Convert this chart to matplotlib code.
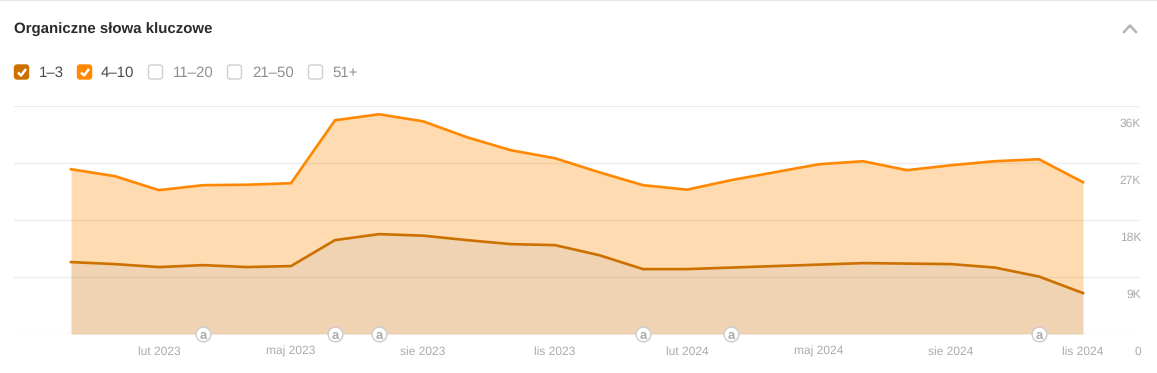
import matplotlib
matplotlib.use("Agg")
import matplotlib.pyplot as plt
from matplotlib.patches import FancyBboxPatch
from matplotlib.transforms import ScaledTranslation

plt.rcParams['font.family'] = ['Liberation Sans', 'DejaVu Sans']
plt.rcParams['text.hinting'] = 'no_hinting'
plt.rcParams['text.hinting_factor'] = 1

W, H = 1157, 373

title = "Organiczne słowa kluczowe"
months = list(range(24))
kw_1_3 = [11370, 11050, 10580, 10890, 10580, 10740, 14840, 15790, 15550, 14840, 14210, 14050,
          12470, 10260, 10260, 10500, 10740, 10970, 11210, 11130, 11050, 10500, 9080, 6470]
kw_4_10 = [14680, 13900, 12160, 12640, 13020, 13100, 18950, 18950, 18080, 16270, 14840, 13740,
           13110, 13270, 12560, 13820, 14840, 15870, 16110, 14770, 15630, 16820, 18550, 17530]
x_tick_pos = [2, 5, 8, 11, 14, 17, 20, 23]
x_tick_labels = ["lut 2023", "maj 2023", "sie 2023", "lis 2023",
                 "lut 2024", "maj 2024", "sie 2024", "lis 2024"]
y_ticks = [0, 9000, 18000, 27000, 36000]
y_tick_labels = ["0", "9K", "18K", "27K", "36K"]
annotation_months = [3, 6, 7, 13, 15, 22]
legend_items = ["1–3", "4–10", "11–20", "21–50", "51+"]

C_LOW = "#CC7000"
C_TOP = "#FF8800"
GRID = "#EDEDED"
MUTED = "#ABABAB"

fig = plt.figure(figsize=(W / 100, H / 100), dpi=100, facecolor="white")

ax = fig.add_axes([14 / W, 1 - 334 / H, (1140 - 14) / W, (334 - 106.3) / H])
ax.set_xlim((14 - 71) / 44, (1140 - 71) / 44)
ax.set_ylim(0, 36000)
for s in ax.spines.values():
    s.set_visible(False)
ax.set_yticks(y_ticks)
ax.set_yticklabels(y_tick_labels)
ax.set_xticks(x_tick_pos)
ax.set_xticklabels(x_tick_labels)
ax.yaxis.tick_right()
ax.tick_params(axis='both', length=0, labelsize=8.6, labelcolor=MUTED)
ax.tick_params(axis='x', pad=8.5)
ax.tick_params(axis='y', pad=0)
ax.grid(axis='y', color=GRID, lw=1)
ax.set_axisbelow(True)
for lab, v in zip(ax.get_yticklabels(), y_ticks):
    lab.set_ha('right')
    dy = -17 / 100 if v == 0 else -16 / 100
    lab.set_transform(lab.get_transform() + ScaledTranslation(1 / 100, dy, fig.dpi_scale_trans))

total = [a + b for a, b in zip(kw_1_3, kw_4_10)]
ax.fill_between(months, 0, kw_1_3, color=C_LOW, alpha=0.3, lw=0)
ax.fill_between(months, kw_1_3, total, color=C_TOP, alpha=0.3, lw=0)
ax.plot(months, kw_1_3, color=C_LOW, lw=1.9, solid_joinstyle='miter')
ax.plot(months, total, color=C_TOP, lw=1.9, solid_joinstyle='miter')

for m in annotation_months:
    ax.scatter([m], [0], s=112, facecolor="white", edgecolor="#CCCCCC", lw=1, zorder=5, clip_on=False)
    ax.annotate("a", xy=(m, 0), ha='center', va='center_baseline', fontsize=9, fontweight='bold',
                color="#ABABAB", zorder=6, annotation_clip=False)

ui = fig.add_axes([0, 0, 1, 1], zorder=10)
ui.set_xlim(0, W)
ui.set_ylim(H, 0)
ui.axis('off')
ui.patch.set_alpha(0)
ui.plot([0, W], [0.3, 0.3], color="#E8E8E8", lw=1)
ui.text(14, 29.5, title, fontsize=11.05, fontweight='bold', color="#2B2B2B", va='center', ha='left')
ui.plot([1124, 1130, 1136], [32, 25.5, 32], color="#B5B5B5", lw=1.8)

box_x = [14, 77, 148, 227, 308]
text_x = [39, 101, 173, 252, 332]
for i, (bx, tx, label) in enumerate(zip(box_x, text_x, legend_items)):
    if i < 2:
        fc = C_LOW if i == 0 else C_TOP
        ec = fc
    else:
        fc = "white"
        ec = "#CFCFCF"
    ui.add_patch(FancyBboxPatch((bx + 2, 66.5), 11, 11, boxstyle="round,pad=1.5,rounding_size=2.5",
                                fc=fc, ec=ec, lw=1))
    if i < 2:
        ui.plot([bx + 4, bx + 7, bx + 12], [72.5, 75.5, 69], color="white", lw=1.8,
                solid_capstyle='butt')
    ui.text(tx, 72.5, label, fontsize=10.8, va='center', ha='left',
            color="#4A4A4A" if i < 2 else "#8F8F8F")

fig.savefig("out.png", dpi=100)
